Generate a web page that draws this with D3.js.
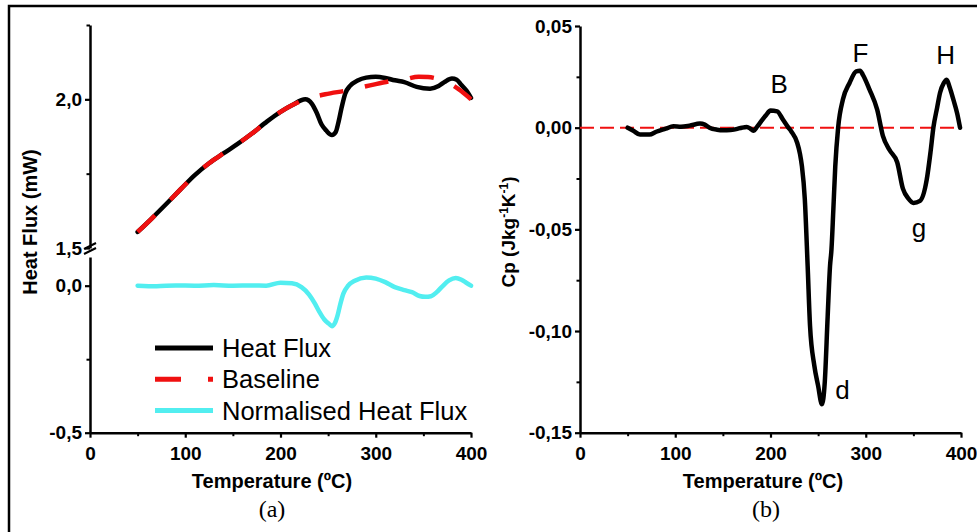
<!DOCTYPE html>
<html>
<head>
<meta charset="utf-8">
<script src="https://cdn.jsdelivr.net/npm/d3@7"></script>
<style>
  body { margin: 0; background: #fff; }
  text { font-family: "Liberation Sans", Arial, sans-serif; }
</style>
</head>
<body>
<svg id="chart" width="977" height="532"></svg>
<script>
// panel (a): heat flux, baseline, normalised heat flux
const tempHF = [50, 65, 80, 95, 110, 125, 140, 155, 170, 186, 200, 212, 226, 233, 238, 243, 248, 254, 258, 261, 264, 268, 273, 281, 290, 300, 310, 320, 330, 343, 357, 366, 372, 380, 385, 390, 395, 400];
const heatFlux = [1.554, 1.60, 1.648, 1.697, 1.745, 1.785, 1.818, 1.85, 1.885, 1.926, 1.958, 1.98, 2.0, 1.985, 1.955, 1.916, 1.895, 1.88, 1.89, 1.925, 1.97, 2.02, 2.045, 2.063, 2.073, 2.076, 2.072, 2.064, 2.058, 2.042, 2.036, 2.045, 2.058, 2.07, 2.066, 2.048, 2.03, 2.005];

const tempBL = [50, 65, 80, 95, 110, 125, 140, 155, 170, 186, 200, 212, 226, 247, 270, 294, 315, 330, 345, 355, 364, 373, 382, 390, 400];
const baseline = [1.554, 1.60, 1.648, 1.697, 1.745, 1.785, 1.818, 1.85, 1.885, 1.926, 1.958, 1.98, 2.0, 2.017, 2.03, 2.047, 2.061, 2.067, 2.076, 2.075, 2.07, 2.06, 2.045, 2.027, 2.0];

const tempNorm = [50, 70, 90, 110, 130, 150, 170, 185, 200, 212, 222, 230, 236, 241, 246, 251, 254, 257, 260, 263, 266, 271, 278, 290, 300, 310, 320, 330, 338, 346, 352, 358, 364, 370, 377, 384, 390, 395, 400];
const normFlux = [0, -0.002, 0.001, 0, 0.002, 0, 0.001, 0, 0.01, 0.008, -0.005, -0.03, -0.06, -0.09, -0.115, -0.13, -0.138, -0.128, -0.1, -0.06, -0.027, 0, 0.017, 0.028, 0.024, 0.012, -0.005, -0.015, -0.022, -0.035, -0.038, -0.036, -0.022, -0.002, 0.018, 0.026, 0.02, 0.01, 0];

const legendLabels = ["Heat Flux", "Baseline", "Normalised Heat Flux"];

// panel (b): Cp
const tempCp = [50, 56, 63, 73, 80, 90, 98, 106, 115, 126, 131, 136, 144, 150, 158, 164, 170, 175, 179, 182, 186, 190, 195, 200, 207, 213, 218, 222, 228, 231, 233, 236, 239, 241.5, 246, 250, 254, 257, 260, 262.5, 264, 266, 268, 271, 276, 283, 290, 294, 297, 304, 312, 318, 325, 333, 339, 345, 350, 357, 364, 368, 371, 375, 378, 382, 385, 388, 392, 396, 399];
const cp = [0, -0.0015, -0.0034, -0.0034, -0.002, -0.0005, 0.0007, 0.0005, 0.001, 0.002, 0.0015, 0, -0.001, -0.0013, -0.0012, -0.0007, 0, 0.0003, -0.0005, -0.0015, 0.0005, 0.003, 0.006, 0.0084, 0.008, 0.004, 0.0005, -0.002, -0.0074, -0.013, -0.019, -0.035, -0.068, -0.0975, -0.117, -0.127, -0.136, -0.125, -0.093, -0.068, -0.06, -0.04, -0.019, 0, 0.0138, 0.022, 0.0277, 0.028, 0.026, 0.0187, 0.0089, -0.004, -0.011, -0.017, -0.03, -0.035, -0.037, -0.036, -0.0256, -0.012, 0, 0.01, 0.0172, 0.022, 0.0236, 0.02, 0.0138, 0.007, 0];

const peakNames = ["B", "F", "H", "g", "d"];
const peakTemps = [209, 294.5, 384, 356, 275.5];
const peakCp = [0.0172, 0.0325, 0.0315, -0.0537, -0.1335];

const xTicks = [0, 100, 200, 300, 400];
const xMinor = [50, 150, 250, 350];

const svg = d3.select("#chart");
svg.append("rect").attr("width", 977).attr("height", 532).attr("fill", "#fff");

// outer frame (only top and left visible)
svg.append("path")
  .attr("d", "M9,532 V6 H977")
  .attr("fill", "none")
  .attr("stroke", "#000")
  .attr("stroke-width", 2.5);

const comma = (n) => (d) => d.toFixed(n).replace(".", ",");

function styleAxis(g, size) {
  g.attr("font-family", "Liberation Sans, Arial, sans-serif")
    .attr("font-size", size)
    .attr("font-weight", "bold");
  g.selectAll(".domain").attr("stroke-width", 2.5);
  g.selectAll(".tick line").attr("stroke-width", 2.2);
  g.selectAll(".tick text").attr("fill", "#000");
}

function minorTicks(g, axis, values) {
  g.append("g").call(axis.tickValues(values).tickSize(3.5).tickFormat(""))
    .call((a) => a.select(".domain").remove())
    .selectAll("line").attr("stroke-width", 2);
}

const axisY = 432.7;
const tickFont = 19;

// ---------- panel (a) ----------
const xa = d3.scaleLinear().domain([0, 400]).range([90, 471]);
const yUp = d3.scaleLinear().domain([1.5, 2.25]).range([248, 25]);
const yLow = d3.scaleLinear().domain([-0.5, 0.0976]).range([axisY, 257]);

const ga = svg.append("g");

ga.append("g").attr("transform", "translate(0," + axisY + ")")
  .call(d3.axisBottom(xa).tickValues(xTicks).tickSize(5).tickPadding(9).tickSizeOuter(0))
  .call((g) => styleAxis(g, tickFont));
minorTicks(ga.append("g").attr("transform", "translate(0," + axisY + ")"), d3.axisBottom(xa), xMinor);

ga.append("g").attr("transform", "translate(90,0)")
  .call(d3.axisLeft(yUp).tickValues([1.5, 2.0]).tickSize(5).tickPadding(3).tickSizeOuter(0).tickFormat(comma(1)))
  .call((g) => styleAxis(g, tickFont));
minorTicks(ga.append("g").attr("transform", "translate(90,0)"), d3.axisLeft(yUp), [1.75, 2.25]);

ga.append("g").attr("transform", "translate(90,0)")
  .call(d3.axisLeft(yLow).tickValues([-0.5, 0]).tickSize(5).tickPadding(3).tickSizeOuter(0).tickFormat(comma(1)))
  .call((g) => styleAxis(g, tickFont));
minorTicks(ga.append("g").attr("transform", "translate(90,0)"), d3.axisLeft(yLow), [-0.25]);

// axis break marks
[0, 5].forEach((off) => {
  ga.append("line")
    .attr("x1", 84).attr("y1", 254 + off - 5)
    .attr("x2", 96).attr("y2", 248 + off - 5)
    .attr("stroke", "#000").attr("stroke-width", 2);
});

const lineA = (scaleY) => d3.line()
  .x((d) => xa(d[0]))
  .y((d) => scaleY(d[1]))
  .curve(d3.curveMonotoneX);

ga.append("path")
  .datum(d3.zip(tempHF, heatFlux))
  .attr("d", lineA(yUp))
  .attr("fill", "none").attr("stroke", "#000")
  .attr("stroke-width", 4.5).attr("stroke-linejoin", "round").attr("stroke-linecap", "round");

ga.append("path")
  .datum(d3.zip(tempBL, baseline))
  .attr("d", lineA(yUp))
  .attr("fill", "none").attr("stroke", "#f01010")
  .attr("stroke-width", 4.5).attr("stroke-dasharray", "24,22");

ga.append("path")
  .datum(d3.zip(tempNorm, normFlux))
  .attr("d", lineA(yLow))
  .attr("fill", "none").attr("stroke", "#52eef0")
  .attr("stroke-width", 4.5).attr("stroke-linejoin", "round").attr("stroke-linecap", "round");

// legend
const legendColors = ["#000", "#f01010", "#52eef0"];
const legendDash = [null, "26,27", null];
const leg = ga.append("g").selectAll("g").data(legendLabels).join("g")
  .attr("transform", (d, i) => "translate(155," + (348 + i * 31.3) + ")");
leg.append("line")
  .attr("x1", 0).attr("x2", 58)
  .attr("stroke", (d, i) => legendColors[i])
  .attr("stroke-width", 5)
  .attr("stroke-dasharray", (d, i) => legendDash[i]);
leg.append("text")
  .attr("x", 67).attr("y", 9)
  .attr("font-size", 25.5)
  .text((d) => d);

ga.append("text")
  .attr("transform", "translate(37,222) rotate(-90)")
  .attr("text-anchor", "middle")
  .attr("font-size", 20).attr("font-weight", "bold")
  .text("Heat Flux (mW)");

ga.append("text")
  .attr("x", 272).attr("y", 488)
  .attr("text-anchor", "middle")
  .attr("font-size", 20).attr("font-weight", "bold")
  .text("Temperature (ºC)");

ga.append("text")
  .attr("x", 272).attr("y", 517)
  .attr("text-anchor", "middle")
  .attr("font-size", 24)
  .style("font-family", "Liberation Serif, Times New Roman, serif")
  .text("(a)");

// ---------- panel (b) ----------
const xb = d3.scaleLinear().domain([0, 400]).range([580, 961]);
const yb = d3.scaleLinear().domain([-0.15, 0.05]).range([axisY, 26]);

const gb = svg.append("g");

gb.append("g").attr("transform", "translate(0," + axisY + ")")
  .call(d3.axisBottom(xb).tickValues(xTicks).tickSize(5).tickPadding(9).tickSizeOuter(0))
  .call((g) => styleAxis(g, tickFont));
minorTicks(gb.append("g").attr("transform", "translate(0," + axisY + ")"), d3.axisBottom(xb), xMinor);

gb.append("g").attr("transform", "translate(580,0)")
  .call(d3.axisLeft(yb).tickValues([-0.15, -0.1, -0.05, 0, 0.05]).tickSize(5).tickPadding(3).tickSizeOuter(0).tickFormat(comma(2)))
  .call((g) => styleAxis(g, tickFont));
minorTicks(gb.append("g").attr("transform", "translate(580,0)"), d3.axisLeft(yb), [-0.125, -0.075, -0.025, 0.025]);

gb.append("line")
  .attr("x1", xb(0)).attr("x2", xb(400))
  .attr("y1", yb(0)).attr("y2", yb(0))
  .attr("stroke", "#f01010").attr("stroke-width", 2)
  .attr("stroke-dasharray", "14,6");

gb.append("path")
  .datum(d3.zip(tempCp, cp))
  .attr("d", d3.line().x((d) => xb(d[0])).y((d) => yb(d[1])).curve(d3.curveMonotoneX))
  .attr("fill", "none").attr("stroke", "#000")
  .attr("stroke-width", 4.5).attr("stroke-linejoin", "round").attr("stroke-linecap", "round");

gb.selectAll(".peak").data(peakNames).join("text")
  .attr("class", "peak")
  .attr("x", (d, i) => xb(peakTemps[i]))
  .attr("y", (d, i) => yb(peakCp[i]))
  .attr("text-anchor", "middle")
  .attr("font-size", 26)
  .text((d) => d);

const cpTitle = gb.append("text")
  .attr("transform", "translate(515,232) rotate(-90)")
  .attr("text-anchor", "middle")
  .attr("font-size", 19).attr("font-weight", "bold");
cpTitle.append("tspan").text("Cp (Jkg");
cpTitle.append("tspan").attr("dy", -7).attr("font-size", 12).text("-1");
cpTitle.append("tspan").attr("dy", 7).text("K");
cpTitle.append("tspan").attr("dy", -7).attr("font-size", 12).text("-1");
cpTitle.append("tspan").attr("dy", 7).text(")");

gb.append("text")
  .attr("x", 763).attr("y", 488)
  .attr("text-anchor", "middle")
  .attr("font-size", 20).attr("font-weight", "bold")
  .text("Temperature (ºC)");

gb.append("text")
  .attr("x", 766).attr("y", 517)
  .attr("text-anchor", "middle")
  .attr("font-size", 24)
  .style("font-family", "Liberation Serif, Times New Roman, serif")
  .text("(b)");
</script>
</body>
</html>
